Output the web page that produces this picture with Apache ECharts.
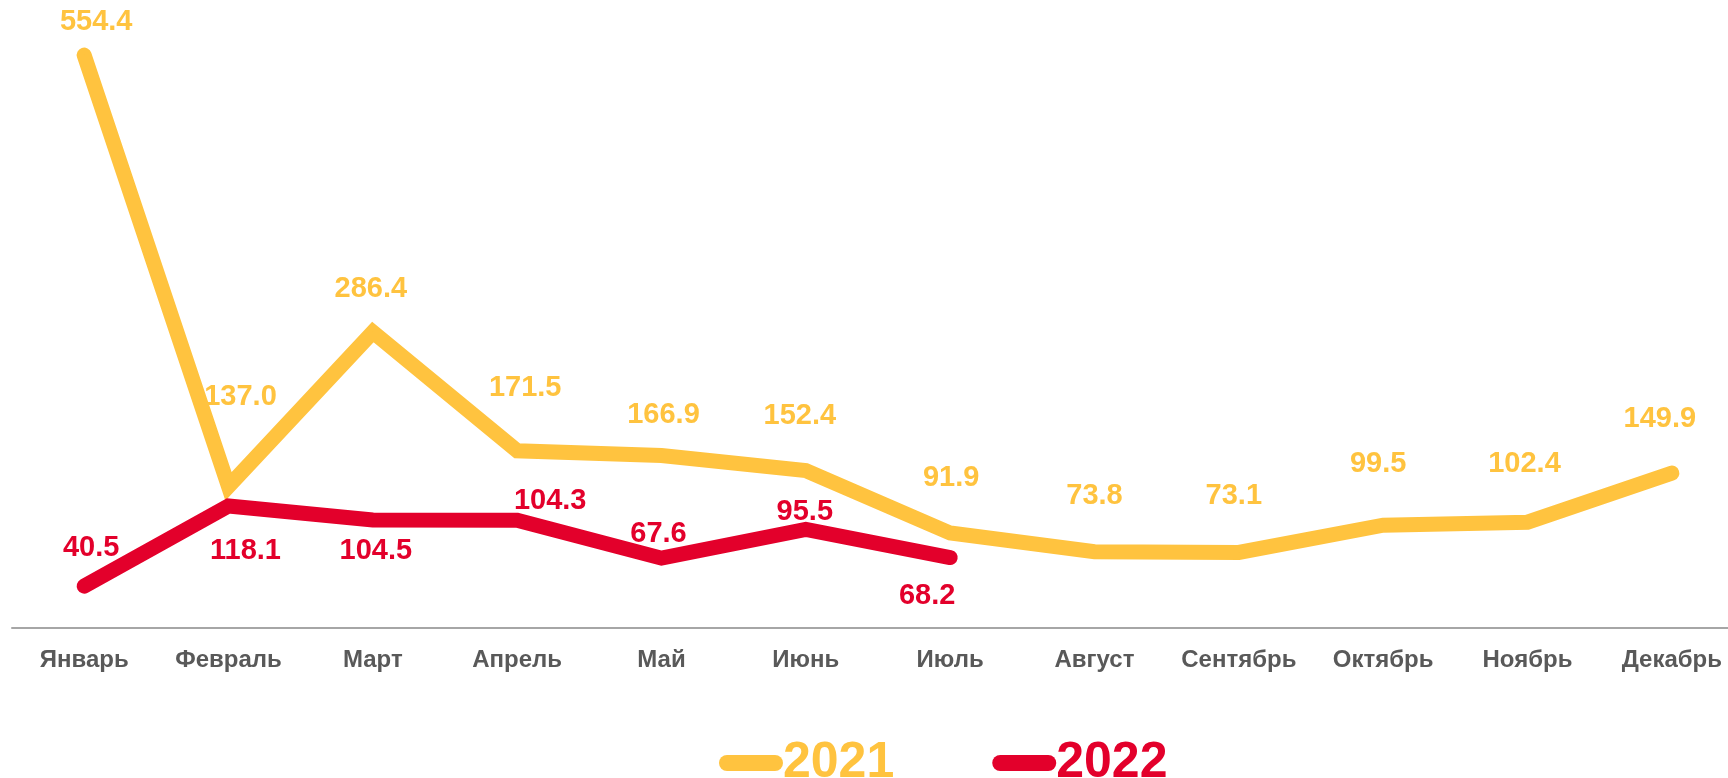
<!DOCTYPE html>
<html>
<head>
<meta charset="utf-8">
<script src="https://cdn.jsdelivr.net/npm/echarts@6/dist/echarts.min.js"></script>
<style>
  html, body { margin: 0; padding: 0; background: #fff; overflow: hidden; }
  #main { width: 1750px; height: 778px; }
</style>
</head>
<body>
<div id="main"></div>
<script>
var months = ['Январь', 'Февраль', 'Март', 'Апрель', 'Май', 'Июнь', 'Июль', 'Август', 'Сентябрь', 'Октябрь', 'Ноябрь', 'Декабрь'];
var values2021 = [554.4, 137.0, 286.4, 171.5, 166.9, 152.4, 91.9, 73.8, 73.1, 99.5, 102.4, 149.9];
var values2022 = [40.5, 118.1, 104.5, 104.3, 67.6, 95.5, 68.2];

// label nudges (px) so the numbers sit where they do in the original
var shift2021 = [[12, -33], [12, -89], [-2, -43], [8, -63], [2, -41], [-6, -55], [1, -55], [0, -56], [-5, -56], [-5, -61], [-3, -58], [-12, -54]];
var shift2022 = [[7, -38], [17, 45], [3, 31], [33, -19], [-3, -24], [-1, -17], [-23, 38]];

var yellow = '#FFC33F';
var red = '#E3002B';
var font = '"Liberation Sans", Arial, sans-serif';

function buildData(values, shifts) {
    var out = [];
    for (var i = 0; i < values.length; i++) {
        out.push({ value: values[i], label: { offset: shifts[i] } });
    }
    return out;
}

function lineSeries(name, values, shifts, color) {
    return {
        name: name,
        type: 'line',
        data: buildData(values, shifts),
        symbol: 'circle',
        symbolSize: 1,
        showSymbol: true,
        itemStyle: { color: color },
        lineStyle: { color: color, width: 15, cap: 'round', join: 'miter' },
        label: {
            show: true,
            position: 'inside',
            color: color,
            fontFamily: font,
            fontWeight: 'bold',
            fontSize: 29,
            formatter: function (p) { return p.value.toFixed(1); }
        },
        emphasis: { disabled: true },
        animation: false
    };
}

var chart = echarts.init(document.getElementById('main'));

var pill = 'path://M8,0 L56,0 A8,8 0 0 1 56,16 L8,16 A8,8 0 0 1 8,0 Z';

var option = {
    backgroundColor: '#ffffff',
    animation: false,
    grid: { left: 12, top: 8, right: 6, bottom: 150 },
    legend: {
        left: 714,
        top: 733,
        itemWidth: 64,
        itemHeight: 16,
        itemGap: 98,
        data: [
            { name: '2021', icon: pill, itemStyle: { color: yellow }, textStyle: { color: yellow } },
            { name: '2022', icon: pill, itemStyle: { color: red }, textStyle: { color: red } }
        ],
        textStyle: { fontFamily: font, fontWeight: 'bold', fontSize: 50, padding: [0, 0, 0, -5] }
    },
    xAxis: {
        type: 'category',
        data: months,
        boundaryGap: true,
        axisLine: { lineStyle: { color: '#A6A6A6', width: 2 } },
        axisTick: { show: false },
        axisLabel: {
            color: '#595959',
            fontFamily: font,
            fontWeight: 'bold',
            fontSize: 24,
            margin: 20,
            interval: 0
        }
    },
    yAxis: {
        type: 'value',
        min: 0,
        max: 600,
        show: false,
        splitLine: { show: false }
    },
    series: [
        lineSeries('2021', values2021, shift2021, yellow),
        lineSeries('2022', values2022, shift2022, red)
    ]
};

chart.setOption(option);
</script>
</body>
</html>
